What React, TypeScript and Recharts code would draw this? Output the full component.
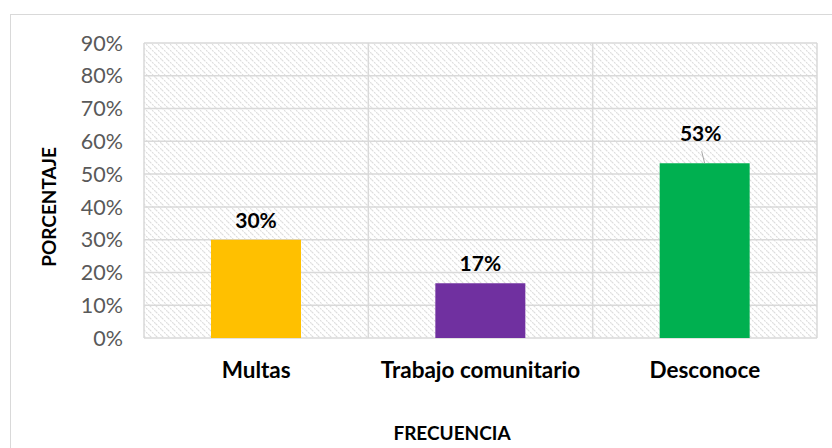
import { BarChart, Bar, XAxis, YAxis, CartesianGrid, Cell, LabelList } from "recharts"

// datos
const categorias = ["Multas", "Trabajo comunitario", "Desconoce"]
const porcentajes = [30, 16.7, 53.3]
const colores = ["#FFC000", "#7030A0", "#00B050"]
const yTicks = [0, 10, 20, 30, 40, 50, 60, 70, 80, 90]

const data = categorias.map((name, i) => ({ name, value: porcentajes[i] }))

// la etiqueta de "Desconoce" está separada de la barra con una línea guía
const LEADER_INDEX = 2

function BarLabel(props: any) {
  const { x, y, width, value, index } = props
  const cx = x + width / 2
  const txt = `${Math.round(value)}%`
  if (index === LEADER_INDEX) {
    return (
      <g>
        <line x1={cx - 3} y1={y - 12} x2={cx} y2={y} stroke="#a6a6a6" strokeWidth={1} />
        <text x={cx - 4} y={y - 22} textAnchor="middle" fontSize={21} fontWeight="bold" fill="#000">
          {txt}
        </text>
      </g>
    )
  }
  return (
    <text x={cx} y={y - 12} textAnchor="middle" fontSize={21} fontWeight="bold" fill="#000">
      {txt}
    </text>
  )
}

export default function App() {
  return (
    <div style={{ position: "relative", width: 832, height: 448, overflow: "hidden", fontFamily: "Lato, sans-serif", background: "#fff" }}>
      <style>{`body{margin:0}`}</style>
      <div style={{ position: "absolute", left: 10, top: 14, width: 900, height: 500, border: "1px solid #d9d9d9" }} />
      <svg width={0} height={0} style={{ position: "absolute" }}>
        <defs>
          <pattern id="hatch" patternUnits="userSpaceOnUse" width={6} height={6}>
            <path d="M0,0 L6,6 M-1,5 L1,7 M5,-1 L7,1" stroke="#dcdcdc" strokeWidth={1.1} strokeDasharray="2 1" />
          </pattern>
        </defs>
      </svg>
      <div style={{ position: "absolute", left: 0, top: 0 }}>
        <BarChart width={832} height={448} data={data} margin={{ top: 43, right: 15, left: 0, bottom: 0 }}>
          <CartesianGrid
            stroke="#d9d9d9"
            strokeWidth={1.5}
            fill="url(#hatch)"
            fillOpacity={1}
            verticalCoordinatesGenerator={({ offset }: any) =>
              [0, 1, 2, 3].map((i) => offset.left + (i * offset.width) / categorias.length)
            }
          />
          <XAxis
            dataKey="name"
            height={110}
            axisLine={false}
            tickLine={false}
            tickSize={0}
            tickMargin={24}
            tick={{ fill: "#000", fontSize: 22.5, fontWeight: "bold" }}
            label={() => (
              <text x={452} y={440} textAnchor="middle" fontSize={19} fontWeight="bold" fill="#000">
                FRECUENCIA
              </text>
            )}
          />
          <YAxis
            width={144}
            domain={[0, 90]}
            ticks={yTicks}
            interval={0}
            axisLine={false}
            tickLine={false}
            tickSize={0}
            tickMargin={21}
            tickFormatter={(v) => `${v}%`}
            tick={{ fill: "#595959", fontSize: 21.5 }}
            label={() => (
              <text x={56} y={207} textAnchor="middle" fontSize={19} fontWeight="bold" fill="#000" transform="rotate(-90 56 207)">
                PORCENTAJE
              </text>
            )}
          />
          <Bar dataKey="value" barSize={90} isAnimationActive={false}>
            {data.map((d, i) => (
              <Cell key={d.name} fill={colores[i]} />
            ))}
            <LabelList dataKey="value" content={BarLabel} />
          </Bar>
        </BarChart>
      </div>
    </div>
  )
}
